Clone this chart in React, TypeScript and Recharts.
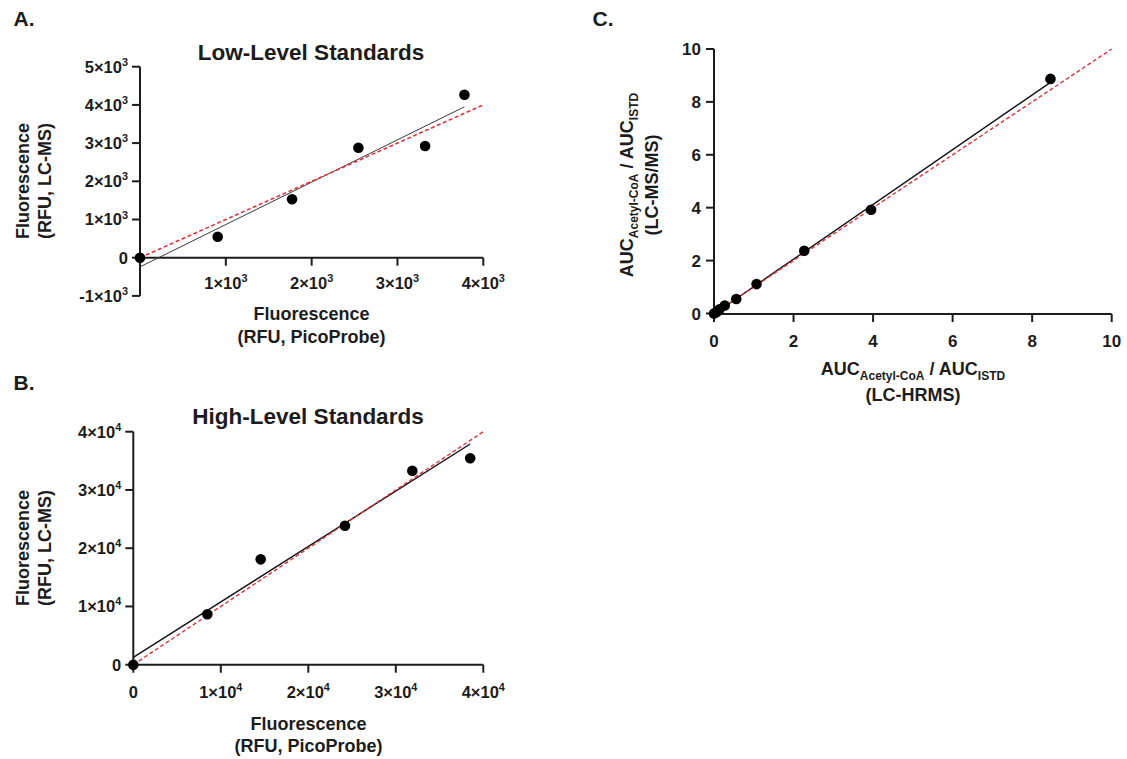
import React from 'react';
import { ScatterChart, Scatter, XAxis, YAxis, ReferenceLine } from 'recharts';

// ---------- Panel A: Low-Level Standards ----------
const lowPicoProbe = [0, 905, 1772, 2545, 3322, 3780];
const lowLcms = [0, 550, 1529, 2880, 2924, 4267];
const lowFitX = [0, 3780];
const lowFitY = [-240, 3950];
const lowIdentity = [0, 4000];
const lowXTicks = [1000, 2000, 3000, 4000];
const lowYTicks = [-1000, 0, 1000, 2000, 3000, 4000, 5000];

// ---------- Panel B: High-Level Standards ----------
const highPicoProbe = [0, 8460, 14560, 24190, 31890, 38500];
const highLcms = [0, 8650, 18090, 23860, 33300, 35430];
const highFitX = [0, 38500];
const highFitY = [1270, 37890];
const highIdentity = [0, 40000];
const highTicks = [0, 10000, 20000, 30000, 40000];

// ---------- Panel C: LC-HRMS vs LC-MS/MS ----------
const hrms = [0, 0.07, 0.14, 0.27, 0.56, 1.07, 2.27, 3.95, 8.46];
const msms = [0, 0.06, 0.16, 0.3, 0.55, 1.11, 2.37, 3.92, 8.87];
const aucFitX = [0, 8.46];
const aucFitY = [-0.02, 8.74];
const aucIdentity = [0, 10];
const aucTicks = [0, 2, 4, 6, 8, 10];

const FONT = '"Liberation Sans", Arial, Helvetica, sans-serif';
const INK = '#1c1c1c';
const RED = '#e3333c';

const pts = (xs: number[], ys: number[]) => xs.map((x, i) => ({ x, y: ys[i] }));

function tickContent(v: number, exp: number | undefined, size: number) {
  if (!exp || v === 0) return String(v);
  return (
    <>
      {`${v / Math.pow(10, exp)}×10`}
      <tspan dy={-size * 0.42} fontSize={size * 0.66}>{exp}</tspan>
    </>
  );
}

function YTick(props: any) {
  const { x, y, payload, exp, size } = props;
  return (
    <text x={x} y={y} dy={size * 0.36} textAnchor="end" fontFamily={FONT} fontWeight="bold" fontSize={size} fill={INK}>
      {tickContent(payload.value, exp, size)}
    </text>
  );
}

function XTick(props: any) {
  const { x, y, payload, exp, size, lift = 0, mark = false, base } = props;
  const top = y - lift;
  return (
    <g>
      {mark && <line x1={x} x2={x} y1={top} y2={top + 8} stroke={INK} strokeWidth={2} />}
      <text x={x} y={top + base} textAnchor="middle" fontFamily={FONT} fontWeight="bold" fontSize={size} fill={INK}>
        {tickContent(payload.value, exp, size)}
      </text>
    </g>
  );
}

const Dot = (p: any) => <circle cx={p.cx} cy={p.cy} r={5.3} fill="#000" />;
const Nothing = () => <g />;

const axisStyle = { stroke: INK, strokeWidth: 2 };

function Text({ cx, cy, size, rotate = false, lineHeight = 22, children }: any) {
  return (
    <div
      style={{
        position: 'absolute',
        left: cx,
        top: cy,
        transform: `translate(-50%, -50%)${rotate ? ' rotate(-90deg)' : ''}`,
        fontFamily: FONT,
        fontWeight: 'bold',
        fontSize: size,
        lineHeight: `${lineHeight}px`,
        color: INK,
        whiteSpace: 'nowrap',
        textAlign: 'center',
      }}
    >
      {children}
    </div>
  );
}

const Sub = ({ children }: any) => (
  <span style={{ fontSize: 12, position: 'relative', top: 5 }}>{children}</span>
);

// geometry of panel A plot (its x-axis is drawn through y = 0)
const A_W = 520, A_H = 320, A_TOP = 66.7, A_XH = 24.1;
const A_PLOT_H = A_H - A_TOP - A_XH;
const A_LIFT = (A_PLOT_H * (0 - lowYTicks[0])) / (lowYTicks[lowYTicks.length - 1] - lowYTicks[0]);

const TICK = 16.5;
const LABEL = 18;

export default function App() {
  return (
    <div style={{ position: 'absolute', left: 0, top: 0, width: 1127, height: 759, background: '#fff', overflow: 'hidden' }}>
      {/* Panel A */}
      <div style={{ position: 'absolute', left: 0, top: 0 }}>
        <ScatterChart width={A_W} height={A_H} margin={{ top: A_TOP, right: 36.7, bottom: 0, left: 80 }}>
          <XAxis
            type="number" dataKey="x" domain={[0, 4000]} ticks={lowXTicks} interval={0}
            axisLine={false} tickLine={false} tickSize={0} tickMargin={0} height={A_XH}
            tick={(p: any) => <XTick {...p} exp={3} size={TICK} lift={A_LIFT} mark base={31.5} />}
          />
          <YAxis
            type="number" dataKey="y" domain={[-1000, 5000]} ticks={lowYTicks} interval={0} width={60}
            axisLine={axisStyle} tickLine={axisStyle} tickSize={8} tickMargin={4}
            tick={(p: any) => <YTick {...p} exp={3} size={TICK} />}
          />
          <ReferenceLine y={0} stroke={INK} strokeWidth={2} />
          <Scatter data={pts(lowFitX, lowFitY)} line={{ stroke: '#3a3a3a', strokeWidth: 1 }} shape={Nothing} isAnimationActive={false} />
          <Scatter data={pts(lowIdentity, lowIdentity)} line={{ stroke: RED, strokeWidth: 1.6, strokeDasharray: '4 2.5' }} shape={Nothing} isAnimationActive={false} />
          <Scatter data={pts(lowPicoProbe, lowLcms)} shape={Dot} isAnimationActive={false} />
        </ScatterChart>
      </div>

      {/* Panel B */}
      <div style={{ position: 'absolute', left: 0, top: 380 }}>
        <ScatterChart width={520} height={330} margin={{ top: 51.7, right: 36.7, bottom: 0, left: 73.3 }}>
          <XAxis
            type="number" dataKey="x" domain={[0, 40000]} ticks={highTicks} interval={0}
            axisLine={axisStyle} tickLine={axisStyle} tickSize={8} tickMargin={0} height={45.3}
            tick={(p: any) => <XTick {...p} exp={4} size={TICK} base={25.5} />}
          />
          <YAxis
            type="number" dataKey="y" domain={[0, 40000]} ticks={highTicks} interval={0} width={60}
            axisLine={axisStyle} tickLine={axisStyle} tickSize={8} tickMargin={4}
            tick={(p: any) => <YTick {...p} exp={4} size={TICK} />}
          />
          <Scatter data={pts(highFitX, highFitY)} line={{ stroke: '#111', strokeWidth: 1.4 }} shape={Nothing} isAnimationActive={false} />
          <Scatter data={pts(highIdentity, highIdentity)} line={{ stroke: RED, strokeWidth: 1.4, strokeDasharray: '4 2.5' }} shape={Nothing} isAnimationActive={false} />
          <Scatter data={pts(highPicoProbe, highLcms)} shape={Dot} isAnimationActive={false} />
        </ScatterChart>
      </div>

      {/* Panel C */}
      <div style={{ position: 'absolute', left: 600, top: 0 }}>
        <ScatterChart width={527} height={360} margin={{ top: 49, right: 15.3, bottom: 0, left: 54 }}>
          <XAxis
            type="number" dataKey="x" domain={[0, 10]} ticks={aucTicks} interval={0}
            axisLine={axisStyle} tickLine={axisStyle} tickSize={8} tickMargin={0} height={46}
            tick={(p: any) => <XTick {...p} size={17} base={25} />}
          />
          <YAxis
            type="number" dataKey="y" domain={[0, 10]} ticks={aucTicks} interval={0} width={60}
            axisLine={axisStyle} tickLine={axisStyle} tickSize={8} tickMargin={5}
            tick={(p: any) => <YTick {...p} size={17} />}
          />
          <Scatter data={pts(aucFitX, aucFitY)} line={{ stroke: '#111', strokeWidth: 1.4 }} shape={Nothing} isAnimationActive={false} />
          <Scatter data={pts(aucIdentity, aucIdentity)} line={{ stroke: RED, strokeWidth: 1.4, strokeDasharray: '4 2.5' }} shape={Nothing} isAnimationActive={false} />
          <Scatter data={pts(hrms, msms)} shape={Dot} isAnimationActive={false} />
        </ScatterChart>
      </div>

      {/* Panel letters and titles */}
      <Text cx={24} cy={18.5} size={21}>A.</Text>
      <Text cx={24} cy={383} size={21}>B.</Text>
      <Text cx={603} cy={18.5} size={21}>C.</Text>
      <Text cx={311} cy={53} size={22.5}>Low-Level Standards</Text>
      <Text cx={308} cy={417} size={22.5}>High-Level Standards</Text>

      {/* Axis titles A */}
      <Text cx={34} cy={181} size={LABEL} rotate>
        <div>Fluorescence</div>
        <div>(RFU, LC-MS)</div>
      </Text>
      <Text cx={311.5} cy={326} size={LABEL} lineHeight={23}>
        <div>Fluorescence</div>
        <div>(RFU, PicoProbe)</div>
      </Text>

      {/* Axis titles B */}
      <Text cx={34} cy={548} size={LABEL} rotate>
        <div>Fluorescence</div>
        <div>(RFU, LC-MS)</div>
      </Text>
      <Text cx={308.5} cy={735} size={LABEL} lineHeight={22}>
        <div>Fluorescence</div>
        <div>(RFU, PicoProbe)</div>
      </Text>

      {/* Axis titles C */}
      <Text cx={640} cy={185} size={LABEL} rotate lineHeight={23}>
        <div>AUC<Sub>Acetyl-CoA</Sub> / AUC<Sub>ISTD</Sub></div>
        <div>(LC-MS/MS)</div>
      </Text>
      <Text cx={913} cy={382} size={LABEL} lineHeight={24}>
        <div>AUC<Sub>Acetyl-CoA</Sub> / AUC<Sub>ISTD</Sub></div>
        <div>(LC-HRMS)</div>
      </Text>
    </div>
  );
}
